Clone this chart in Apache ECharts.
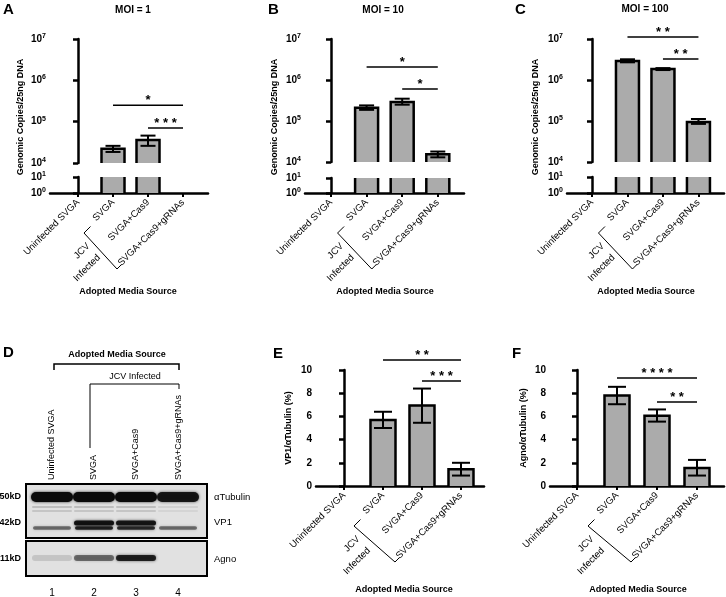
<!DOCTYPE html>
<html><head><meta charset="utf-8">
<script src="https://cdn.jsdelivr.net/npm/echarts@6/dist/echarts.min.js"></script>
<style>html,body{margin:0;padding:0;background:#fff}#c{width:726px;height:597px}</style>
</head><body><div id="c"></div>
<script>
// ---------------- DATA ----------------
const categories = ['Uninfected SVGA', 'SVGA', 'SVGA+Cas9', 'SVGA+Cas9+gRNAs'];
const moi1Mean = [null, 2.2e4, 3.6e4, null];
const moi1Low = [null, 1.85e4, 2.6e4, null];
const moi1High = [null, 2.6e4, 4.6e4, null];
const moi10Mean = [null, 2.1e5, 2.9e5, 1.55e4];
const moi10Low = [null, 1.87e5, 2.5e5, 1.3e4];
const moi10High = [null, 2.4e5, 3.5e5, 1.8e4];
const moi100Mean = [null, 2.9e6, 1.85e6, 9.5e4];
const moi100Low = [null, 2.7e6, 1.75e6, 8.5e4];
const moi100High = [null, 3.2e6, 1.95e6, 1.12e5];
const vp1Mean = [0, 5.7, 6.95, 1.45];
const vp1Low = [null, 5.0, 5.45, 0.9];
const vp1High = [null, 6.4, 8.4, 2.0];
const agnoMean = [0, 7.8, 6.05, 1.55];
const agnoLow = [null, 7.05, 5.55, 0.9];
const agnoHigh = [null, 8.55, 6.6, 2.25];
// significance: [fromIndex, toIndex, level, stars]
const sigMoi1 = [[1, 3, 2.5e5, '*'], [2, 3, 7.0e4, '* * *']];
const sigMoi10 = [[1, 3, 2.07e6, '*'], [2, 3, 6.0e5, '*']];
const sigMoi100 = [[1, 3, 1.12e7, '* *'], [2, 3, 3.25e6, '* *']];
const sigVp1 = [[1, 3, 10.86, '* *'], [2, 3, 9.05, '* * *']];
const sigAgno = [[1, 3, 9.31, '* * * *'], [2, 3, 7.24, '* *']];
const panelLetters = ['A', 'B', 'C', 'D', 'E', 'F'];
const moiTitles = ['MOI = 1', 'MOI = 10', 'MOI = 100'];
const yTitleLog = 'Genomic Copies/25ng DNA';
const yTitleVp1 = 'VP1/\u03b1Tubulin (%)';
const yTitleAgno = 'Agno/\u03b1Tubulin (%)';
const xTitle = 'Adopted Media Source';
const groupLabel = ['JCV', 'Infected'];
// western blot
const blotLaneNames = ['Uninfected SVGA', 'SVGA', 'SVGA+Cas9', 'SVGA+Cas9+gRNAs'];
const blotLaneNumbers = ['1', '2', '3', '4'];
const blot1Markers = ['50kD', '42kD'];
const blot1Proteins = ['\u03b1Tubulin', 'VP1'];
const blot2Markers = ['11kD'];
const blot2Proteins = ['Agno'];
const tubulinBand = [1.0, 1.0, 1.0, 0.9];
const faintBand1 = [0.16, 0.16, 0.16, 0.08];
const faintBand2 = [0.12, 0.12, 0.12, 0.06];
const vp1UpperBand = [0.0, 0.92, 0.9, 0.0];
const vp1LowerBand = [0.5, 0.85, 0.8, 0.5];
const agnoBand = [0.12, 0.5, 0.85, 0.0];

// ---------------- STYLE / LAYOUT ----------------
const FF = '"Liberation Sans", Arial, sans-serif';
const BAR_FILL = '#ababab';
const grids = [], xAxes = [], yAxes = [], series = [];
const addGrid = g => { g.outerBoundsMode = 'none'; grids.push(g); return grids.length - 1; };
const addX = a => { xAxes.push(a); return xAxes.length - 1; };
const addY = a => { yAxes.push(a); return yAxes.length - 1; };

function catAxis(gridIndex, range) {
  return {
    type: 'value', gridIndex, min: range[0], max: range[1],
    axisLine: { show: true, onZero: false, lineStyle: { color: '#000', width: 2.5 } },
    axisTick: { show: true, customValues: [0, 1, 2, 3], length: 4, lineStyle: { color: '#000', width: 2 } },
    axisLabel: { show: true, customValues: [0, 1, 2, 3], rotate: 45, margin: 8, fontSize: 9.5, fontFamily: FF, color: '#000',
      formatter: v => categories[Math.round(v)] || '' },
    splitLine: { show: false }
  };
}
function logAxis(gridIndex, min, max) {
  return {
    type: 'log', logBase: 10, gridIndex, min, max,
    axisLine: { show: true, lineStyle: { color: '#000', width: 2.5 } },
    axisTick: { show: true, length: 5, lineStyle: { color: '#000', width: 2.5 } },
    splitLine: { show: false }, minorTick: { show: false },
    axisLabel: { margin: 4, color: '#000',
      formatter: v => '{b|10}{s|' + Math.round(Math.log10(v)) + '}',
      rich: { b: { fontSize: 10, fontWeight: 'bold', fontFamily: FF, color: '#000' },
              s: { fontSize: 7, fontWeight: 'bold', fontFamily: FF, color: '#000', padding: [0, 0, 6, 0] } } }
  };
}
function linAxis(gridIndex) {
  return {
    type: 'value', gridIndex, min: 0, max: 10, interval: 2,
    axisLine: { show: true, lineStyle: { color: '#000', width: 2.5 } },
    axisTick: { show: true, length: 5, lineStyle: { color: '#000', width: 2.5 } },
    splitLine: { show: false },
    axisLabel: { margin: 4, color: '#000', fontSize: 10, fontWeight: 'bold', fontFamily: FF }
  };
}
function barSeries(xi, yi, means, base, w) {
  return {
    type: 'custom', xAxisIndex: xi, yAxisIndex: yi, clip: false, silent: true, z: 2,
    data: means.map((v, i) => [i, v]).filter(d => d[1] != null && d[1] > 0),
    renderItem(params, api) {
      const x = api.value(0), v = api.value(1);
      const t = api.coord([x, v]), b = api.coord([x, base]);
      const h = w / 2;
      return { type: 'group', children: [
        { type: 'rect', shape: { x: t[0] - h, y: t[1], width: w, height: b[1] - t[1] }, style: { fill: BAR_FILL } },
        { type: 'polyline', shape: { points: [[t[0] - h, b[1]], [t[0] - h, t[1]], [t[0] + h, t[1]], [t[0] + h, b[1]]] },
          style: { stroke: '#000', lineWidth: 2.5, fill: null } }
      ] };
    }
  };
}
function lowerSegSeries(xi, yi, means, w) {
  return {
    type: 'custom', xAxisIndex: xi, yAxisIndex: yi, clip: false, silent: true, z: 2,
    data: means.map((v, i) => [i, v]).filter(d => d[1] != null && d[1] >= 10),
    renderItem(params, api) {
      const x = api.value(0);
      const t = api.coord([x, 10]), b = api.coord([x, 1]);
      const h = w / 2;
      return { type: 'group', children: [
        { type: 'rect', shape: { x: t[0] - h, y: t[1], width: w, height: b[1] - t[1] }, style: { fill: BAR_FILL } },
        { type: 'line', shape: { x1: t[0] - h, y1: t[1], x2: t[0] - h, y2: b[1] }, style: { stroke: '#000', lineWidth: 2.5 } },
        { type: 'line', shape: { x1: t[0] + h, y1: t[1], x2: t[0] + h, y2: b[1] }, style: { stroke: '#000', lineWidth: 2.5 } }
      ] };
    }
  };
}
function errSeries(xi, yi, lows, highs, cap) {
  return {
    type: 'custom', xAxisIndex: xi, yAxisIndex: yi, clip: false, silent: true, z: 3,
    data: lows.map((v, i) => [i, v, highs[i]]).filter(d => d[1] != null),
    renderItem(params, api) {
      const x = api.value(0);
      const a = api.coord([x, api.value(1)]), b = api.coord([x, api.value(2)]);
      const h = cap / 2, st = { stroke: '#000', lineWidth: 2 };
      return { type: 'group', children: [
        { type: 'line', shape: { x1: a[0], y1: a[1], x2: b[0], y2: b[1] }, style: st },
        { type: 'line', shape: { x1: a[0] - h, y1: a[1], x2: a[0] + h, y2: a[1] }, style: st },
        { type: 'line', shape: { x1: b[0] - h, y1: b[1], x2: b[0] + h, y2: b[1] }, style: st }
      ] };
    }
  };
}
function sigSeries(xi, yi, sig) {
  return {
    type: 'custom', xAxisIndex: xi, yAxisIndex: yi, clip: false, silent: true, z: 3,
    data: sig.map(s => [s[0], s[2], s[1]]),
    renderItem(params, api) {
      const s = sig[params.dataIndex];
      const a = api.coord([s[0], s[2]]), b = api.coord([s[1], s[2]]);
      return { type: 'group', children: [
        { type: 'line', shape: { x1: a[0], y1: a[1], x2: b[0], y2: b[1] }, style: { stroke: '#000', lineWidth: 1.5 } },
        { type: 'text', x: (a[0] + b[0]) / 2, y: a[1] + 2,
          style: { text: s[3], align: 'center', verticalAlign: 'bottom', font: 'bold 13px ' + FF, fill: '#000' } }
      ] };
    }
  };
}

const logPanels = [
  { box: [50, 39, 158, 124, 177, 16], range: [-0.8, 3.714], mean: moi1Mean, low: moi1Low, high: moi1High, sig: sigMoi1 },
  { box: [305, 39, 159, 123, 178, 15], range: [-0.73, 3.736], mean: moi10Mean, low: moi10Low, high: moi10High, sig: sigMoi10 },
  { box: [567, 39, 157, 123, 177, 16], range: [-0.704, 3.72], mean: moi100Mean, low: moi100Low, high: moi100High, sig: sigMoi100 }
];
const linPanels = [
  { box: [316, 370, 168, 116], range: [-0.718, 3.59], mean: vp1Mean, low: vp1Low, high: vp1High, sig: sigVp1 },
  { box: [550, 370, 174, 116], range: [-0.675, 3.675], mean: agnoMean, low: agnoLow, high: agnoHigh, sig: sigAgno }
];
const bracketAnchors = [];

logPanels.forEach(p => {
  const [L, T, W, H, lT, lH] = p.box;
  const gU = addGrid({ left: L, top: T, width: W, height: H });
  const gL = addGrid({ left: L, top: lT, width: W, height: lH });
  const xU = addX({ type: 'value', gridIndex: gU, min: p.range[0], max: p.range[1], show: false });
  const xL = addX(catAxis(gL, p.range));
  const yU = addY(logAxis(gU, 1e4, 1e7));
  const yL = addY(logAxis(gL, 1, 10));
  series.push(barSeries(xU, yU, p.mean, 1e4, 23));
  series.push(lowerSegSeries(xL, yL, p.mean, 23));
  series.push(errSeries(xU, yU, p.low, p.high, 15));
  series.push(sigSeries(xU, yU, p.sig));
  bracketAnchors.push({ xi: xL, axisY: lT + lH });
});
linPanels.forEach(p => {
  const [L, T, W, H] = p.box;
  const g = addGrid({ left: L, top: T, width: W, height: H });
  const xi = addX(catAxis(g, p.range));
  const yi = addY(linAxis(g));
  series.push(barSeries(xi, yi, p.mean, 0, 25));
  series.push(errSeries(xi, yi, p.low, p.high, 18));
  series.push(sigSeries(xi, yi, p.sig));
  bracketAnchors.push({ xi, axisY: T + H });
});

// ---- western blot (panel D) ----
const blotRange = [-0.619, 3.69];
const pickLabel = (positions, labels) => v => {
  const i = positions.findIndex(p => Math.abs(p - v) < 1e-3);
  return i >= 0 ? labels[i] : '';
};
const sideLabel = (gridIndex, position, values, labels, margin, bold) => ({
  type: 'value', gridIndex, position, min: 0, max: 1,
  axisLine: { show: false }, axisTick: { show: false }, splitLine: { show: false },
  axisLabel: { customValues: values, margin, color: '#000', fontSize: bold ? 9 : 9.5, fontWeight: bold ? 'bold' : 'normal',
    fontFamily: FF, formatter: pickLabel(values, labels) }
});
const gB1 = addGrid({ left: 26, top: 484, width: 181, height: 54, show: true, backgroundColor: '#e1e1e1', borderColor: '#000', borderWidth: 2 });
const gB2 = addGrid({ left: 26, top: 541, width: 181, height: 35, show: true, backgroundColor: '#e1e1e1', borderColor: '#000', borderWidth: 2 });
const xB1 = addX({ type: 'value', gridIndex: gB1, position: 'top', min: blotRange[0], max: blotRange[1],
  axisLine: { show: false }, axisTick: { show: false }, splitLine: { show: false },
  axisLabel: { customValues: [0, 1, 2, 3], rotate: 90, margin: 4, fontSize: 9, fontFamily: FF, color: '#000',
    formatter: v => blotLaneNames[Math.round(v)] || '' } });
const xB2 = addX({ type: 'value', gridIndex: gB2, position: 'bottom', min: blotRange[0], max: blotRange[1],
  axisLine: { show: false }, axisTick: { show: false }, splitLine: { show: false },
  axisLabel: { customValues: [0, 1, 2, 3], margin: 12, fontSize: 10, fontFamily: FF, color: '#000',
    formatter: v => blotLaneNumbers[Math.round(v)] || '' } });
const yB1 = addY(sideLabel(gB1, 'left', [0.759, 0.278], blot1Markers, 5, true));
addY(sideLabel(gB1, 'right', [0.759, 0.296], blot1Proteins, 7, false));
const yB2 = addY(sideLabel(gB2, 'left', [0.486], blot2Markers, 5, true));
addY(sideLabel(gB2, 'right', [0.486], blot2Proteins, 7, false));

function bandSeries(xi, yi, bands) {
  const data = [];
  bands.forEach(([arr, yPos, th, w]) => arr.forEach((a, i) => { if (a > 0) data.push([i, yPos, a, th, w]); }));
  return {
    type: 'custom', xAxisIndex: xi, yAxisIndex: yi, clip: true, silent: true, z: 2, data,
    renderItem(params, api) {
      const c = api.coord([api.value(0), api.value(1)]);
      const a = api.value(2), th = api.value(3), w = api.value(4);
      return { type: 'rect', shape: { x: c[0] - w / 2, y: c[1] - th / 2, width: w, height: th, r: th / 2 },
        style: { fill: 'rgba(10,10,10,' + a + ')', shadowBlur: 3, shadowColor: 'rgba(10,10,10,' + (a * 0.8) + ')' } };
    }
  };
}
series.push(bandSeries(xB1, yB1, [
  [faintBand1, 0.574, 2, 40], [faintBand2, 0.5, 2, 40],
  [tubulinBand, 0.759, 10, 42], [vp1UpperBand, 0.278, 5, 40], [vp1LowerBand, 0.185, 3.5, 38]
]));
series.push(bandSeries(xB2, yB2, [[agnoBand, 0.514, 6, 40]]));

const chart = echarts.init(document.getElementById('c'));
chart.setOption({
  animation: false, backgroundColor: '#fff',
  textStyle: { fontFamily: FF },
  grid: grids, xAxis: xAxes, yAxis: yAxes, series
});

// ---------------- TEXT / DECORATION ----------------
const txt = (x, y, text, font, extra) => Object.assign({ type: 'text', x, y, silent: true,
  style: { text, font: font + ' ' + FF, fill: '#000', align: 'center', verticalAlign: 'middle' } }, extra || {});
const ln = (pts, w) => ({ type: 'polyline', silent: true, shape: { points: pts }, style: { stroke: '#000', lineWidth: w, fill: null } });
const gr = [];
const letterPos = [[3, 2], [268, 2], [515, 2], [3, 345], [273, 346], [512, 346]];
panelLetters.forEach((l, i) => gr.push(txt(letterPos[i][0], letterPos[i][1], l, 'bold 15px', { style: { text: l, font: 'bold 15px ' + FF, fill: '#000', align: 'left', verticalAlign: 'top' } })));
[[133, 10], [383, 10], [645, 9]].forEach((p, i) => gr.push(txt(p[0], p[1], moiTitles[i], 'bold 10px')));
[[21, 117], [275, 117], [536, 117]].forEach(p => gr.push(txt(p[0], p[1], yTitleLog, 'bold 9px', { rotation: Math.PI / 2 })));
gr.push(txt(289, 428, yTitleVp1, 'bold 9px', { rotation: Math.PI / 2 }));
gr.push(txt(524, 428, yTitleAgno, 'bold 9px', { rotation: Math.PI / 2 }));
[[128, 292], [385, 292], [646, 292], [404, 590], [638, 590]].forEach(p => gr.push(txt(p[0], p[1], xTitle, 'bold 9px')));
// panel D header
gr.push(txt(117, 355, xTitle, 'bold 9px'));
gr.push(ln([[54, 370], [54, 364], [179, 364], [179, 370]], 1.5));
gr.push(txt(135, 377, groupLabel.join(' '), '9px'));
gr.push(ln([[90, 448], [90, 384], [179, 384], [179, 389]], 1));
// JCV Infected brackets under category labels
bracketAnchors.forEach(b => {
  const x1 = chart.convertToPixel({ xAxisIndex: b.xi }, 1);
  const x3 = chart.convertToPixel({ xAxisIndex: b.xi }, 3);
  const y0 = b.axisY + 10;
  const c1 = [x1 - 29, y0 + 30], c2 = [x3 - 66, y0 + 66];
  gr.push(ln([[c1[0] + 6.5, c1[1] - 6.5], c1, c2, [c2[0] + 4, c2[1] - 4]], 1));
  gr.push(txt(x1 - 31, y0 + 48, groupLabel[0], '9.5px', { rotation: Math.PI / 4 }));
  gr.push(txt(x1 - 26, y0 + 65, groupLabel[1], '9.5px', { rotation: Math.PI / 4 }));
});
chart.setOption({ graphic: gr });
</script>
</body></html>
